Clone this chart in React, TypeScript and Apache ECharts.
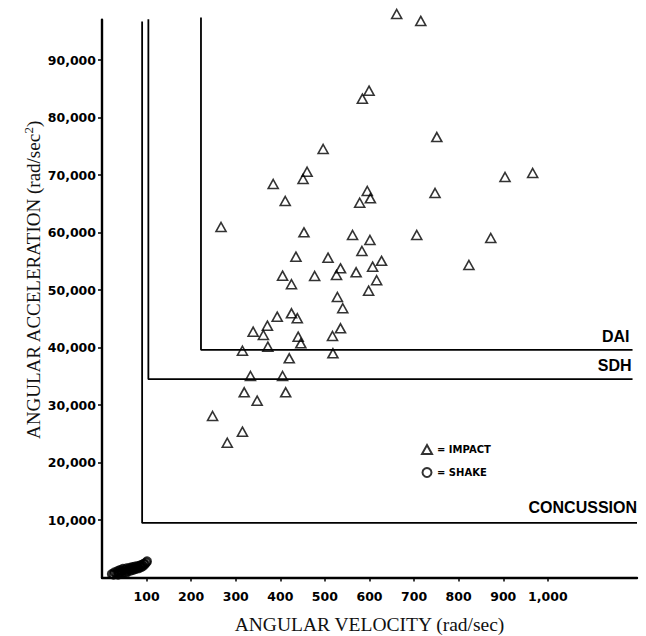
import React, { useEffect, useRef } from "react";
import * as echarts from "echarts";

// Axis ticks
const xTickValues = [100, 200, 300, 400, 500, 600, 700, 800, 900, 1000];
const yTickValues = [10000, 20000, 30000, 40000, 50000, 60000, 70000, 80000, 90000];

// IMPACT (triangles): angular velocity (rad/sec) and angular acceleration (rad/sec^2)
const impactVelocity = [
  661, 715, 751, 904, 966, 747, 706, 872, 627, 823,
  460, 451, 384, 411, 595, 602, 578, 453, 562, 601,
  583, 435, 507, 607, 535, 526, 570, 405, 477, 425,
  616, 598, 528, 540, 393, 425, 438, 371, 339, 362,
  440, 446, 535, 517, 315, 372, 518, 420, 333, 405,
  319, 412, 348, 248, 315, 281, 267, 599, 584, 496,
];
const impactAcceleration = [
  98000, 96800, 76600, 69650, 70350, 66870, 59570, 59040, 55070, 54350,
  70570, 69300, 68430, 65480, 67220, 65950, 65180, 60030, 59570, 58700,
  56780, 55800, 55620, 54050, 53770, 52610, 53080, 52490, 52430, 51000,
  51690, 49880, 48780, 46820, 45360, 45950, 45100, 43790, 42750, 42170,
  41880, 40730, 43340, 42000, 39440, 40140, 38990, 38120, 35040, 35040,
  32210, 32210, 30750, 28090, 25360, 23440, 60960, 84660, 83270, 74520,
];

// SHAKE (circles)
const shakeVelocity = [
  22, 26, 28, 32, 35, 36, 38, 40, 42, 44, 45, 47, 50, 52, 54, 55, 57, 60, 62, 64, 66,
  68, 70, 72, 74, 76, 78, 80, 82, 84, 86, 88, 90, 92, 94, 96, 99, 101,
];
const shakeAcceleration = [
  600, 500, 900, 700, 1100, 500, 800, 1300, 1000, 700, 1200, 1500, 900, 1300, 800, 1600, 1100, 1400, 1700, 1200, 1500,
  1800, 1300, 1600, 1900, 1500, 1700, 2000, 1600, 1900, 2100, 1800, 2200, 2000, 2400, 2300, 2600, 2800,
];

// Injury threshold lines (velocity, acceleration)
const concussionVel = [90, 90, 1200];
const concussionAcc = [96700, 9500, 9500];
const sdhVel = [104, 104, 1190];
const sdhAcc = [97100, 34500, 34500];
const daiVel = [222, 222, 1190];
const daiAcc = [97400, 39600, 39600];

const zip = (a: number[], b: number[]) => a.map((v, i) => [v, b[i]]);
const fmt = (v: number) => Number(v).toLocaleString("en-US");

export default function App() {
  const ref = useRef<HTMLDivElement>(null);

  useEffect(() => {
    document.body.style.margin = "0";
    document.body.style.overflow = "hidden";
    document.documentElement.style.overflow = "hidden";
    const chart = echarts.init(ref.current!, null, { renderer: "svg" });
    const tickLabel = {
      fontFamily: "DejaVu Sans",
      fontWeight: "bold" as const,
      fontSize: 12.5,
      color: "#000",
    };
    const thresholdSeries = (name: string, vel: number[], acc: number[]) => ({
      type: "line",
      id: name,
      data: zip(vel, acc),
      symbol: "none",
      lineStyle: { color: "#000", width: 1.8 },
      clip: false,
      z: 2,
      silent: true,
    });
    chart.setOption({
      animation: false,
      backgroundColor: "#fff",
      grid: { left: 102, right: 9, top: 19.75, bottom: 58.5, containLabel: false, outerBoundsMode: "none" },
      xAxis: {
        type: "value",
        min: 0,
        max: 1200,
        axisLine: { lineStyle: { color: "#000", width: 2.4 } },
        axisTick: { customValues: xTickValues, length: 4, lineStyle: { color: "#000", width: 1.5 } },
        axisLabel: { customValues: xTickValues, formatter: fmt, margin: 12, ...tickLabel },
        splitLine: { show: false },
        name: "ANGULAR VELOCITY (rad/sec)",
        nameLocation: "middle",
        nameGap: 37,
        nameTextStyle: { fontFamily: "Liberation Serif", fontSize: 19.5, color: "#111" },
      },
      yAxis: {
        type: "value",
        min: 0,
        max: 97000,
        axisLine: { lineStyle: { color: "#000", width: 2.4 } },
        axisTick: { customValues: yTickValues, length: 4, lineStyle: { color: "#000", width: 1.5 } },
        axisLabel: { customValues: yTickValues, formatter: fmt, margin: 6, ...tickLabel },
        splitLine: { show: false },
      },
      legend: {
        data: ["IMPACT", "SHAKE"],
        orient: "vertical",
        left: 416,
        top: 439,
        itemWidth: 10,
        itemHeight: 9,
        itemGap: 12,
        formatter: (n: string) => "= " + n,
        textStyle: { fontFamily: "DejaVu Sans", fontWeight: "bold", fontSize: 10, color: "#000" },
      },
      series: [
        thresholdSeries("concussion", concussionVel, concussionAcc),
        thresholdSeries("sdh", sdhVel, sdhAcc),
        thresholdSeries("dai", daiVel, daiAcc),
        {
          name: "IMPACT",
          type: "scatter",
          data: zip(impactVelocity, impactAcceleration),
          symbol: "triangle",
          symbolSize: [10, 9],
          clip: false,
          itemStyle: { color: "rgba(255,255,255,0)", borderColor: "#000", borderWidth: 1.6 },
          z: 3,
        },
        {
          name: "SHAKE",
          type: "scatter",
          data: zip(shakeVelocity, shakeAcceleration),
          symbol: "circle",
          symbolSize: 8,
          clip: false,
          itemStyle: { color: "rgba(255,255,255,0)", borderColor: "#000", borderWidth: 2 },
          z: 3,
        },
      ],
    });

    const labelFont = { fontFamily: "Liberation Sans", fontWeight: "bold", fontSize: 16, fill: "#000" };
    const anchor = (v: number[], a: number[]) =>
      chart.convertToPixel({ gridIndex: 0 }, [v[v.length - 1], a[a.length - 1]]) as number[];
    const dai = anchor(daiVel, daiAcc);
    const sdh = anchor(sdhVel, sdhAcc);
    const con = anchor(concussionVel, concussionAcc);
    chart.setOption({
      graphic: [
        { type: "text", x: dai[0] - 3, y: dai[1] - 5, style: { text: "DAI", align: "right", verticalAlign: "bottom", ...labelFont } },
        { type: "text", x: sdh[0] - 1, y: sdh[1] - 6, style: { text: "SDH", align: "right", verticalAlign: "bottom", ...labelFont } },
        { type: "text", x: con[0], y: con[1] - 7, style: { text: "CONCUSSION", align: "right", verticalAlign: "bottom", ...labelFont } },
        {
          type: "text",
          x: 33,
          y: 280,
          rotation: Math.PI / 2,
          style: {
            text: "{a|ANGULAR ACCELERATION (rad/sec}{b|2}{a|)}",
            align: "center",
            verticalAlign: "middle",
            fill: "#111",
            rich: {
              a: { fontFamily: "Liberation Serif", fontSize: 19, fill: "#111", lineHeight: 22 },
              b: { fontFamily: "Liberation Serif", fontSize: 13, fill: "#111", verticalAlign: "top", lineHeight: 12 },
            },
          },
        },
      ],
    });

    return () => chart.dispose();
  }, []);

  return <div ref={ref} style={{ width: 646, height: 636, overflow: "hidden" }} />;
}
